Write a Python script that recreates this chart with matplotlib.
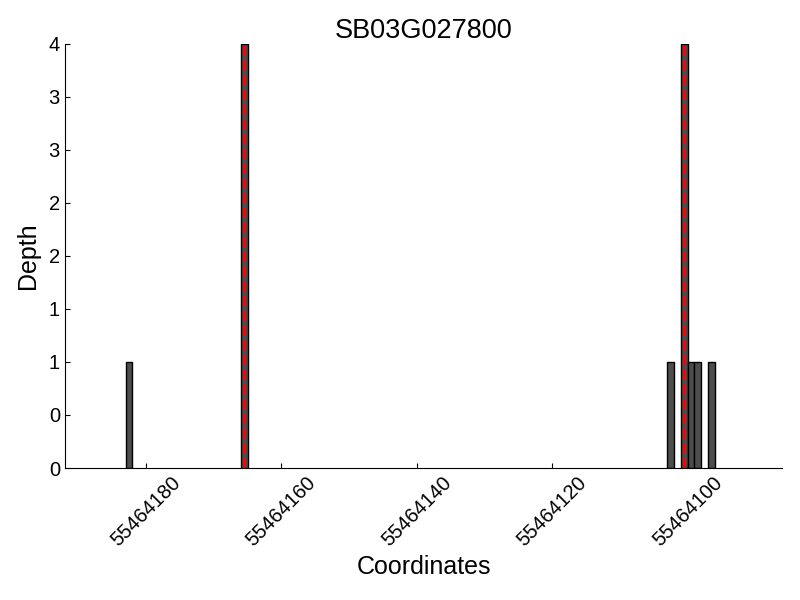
#!/usr/bin/env python3

import matplotlib
matplotlib.use("Agg")
import matplotlib.pyplot as plt
from matplotlib.ticker import FormatStrFormatter
import numpy as np

plt.rcParams['font.family'] = ['Liberation Sans', 'DejaVu Sans']

gene = "SB03G027800"
# start coordinate of each covered base and its read depth
positions = [55464182, 55464165, 55464102, 55464100, 55464099, 55464098, 55464096]
depths = [1, 4, 1, 4, 1, 1, 1]
# peak centres marked with dashed lines
peaks = [55464165.5, 55464100.5]
xticks = [55464180, 55464160, 55464140, 55464120, 55464100]

fig = plt.figure(figsize=(8, 6), dpi=100)
ax = fig.add_axes([0.081, 0.22, 0.897, 0.707])

ax.bar(positions, depths, width=1, align="edge", color="#4d4d4d",
       edgecolor="black", linewidth=1)
for p in peaks:
    ax.axvline(p, color="red", linestyle="--", linewidth=2)

ax.set_xlim(55464192, 55464086)
ax.set_ylim(0, 4)
ax.set_xticks(xticks)
ax.ticklabel_format(axis="x", useOffset=False, style="plain")
ax.set_yticks(np.arange(0, 4.01, 0.5))
ax.yaxis.set_major_formatter(FormatStrFormatter("%d"))

ax.spines["top"].set_visible(False)
ax.spines["right"].set_visible(False)
ax.tick_params(direction="in", top=False, right=False, labelsize=14.5)
plt.setp(ax.get_xticklabels(), rotation=45)

ax.set_title(gene, fontsize=19.5, pad=3)
ax.set_xlabel("Coordinates", fontsize=18)
ax.set_ylabel("Depth", fontsize=18, labelpad=6)

fig.savefig("out.png")
